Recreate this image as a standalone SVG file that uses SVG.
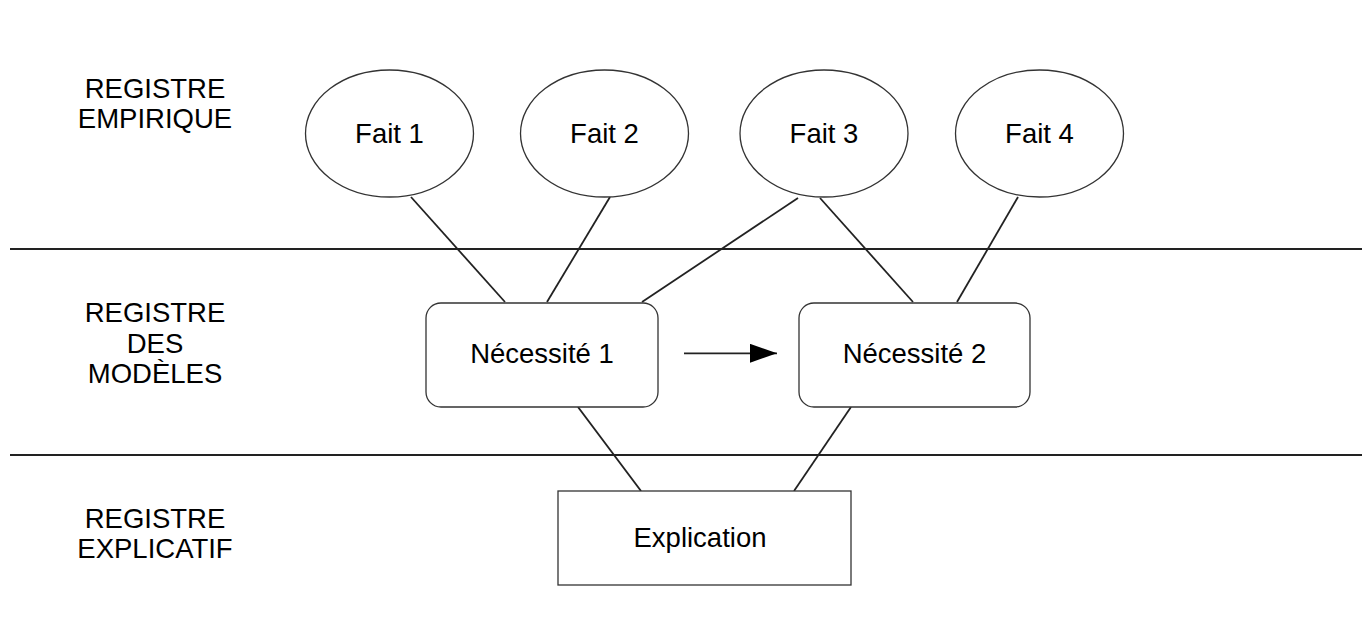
<svg xmlns="http://www.w3.org/2000/svg" width="1370" height="632" viewBox="0 0 1370 632">
<defs>
<style>
.t{font-family:"Liberation Sans",Arial,sans-serif;font-size:27.5px;fill:#000;text-anchor:middle}
.s{fill:#fff;stroke:#333;stroke-width:1.3}
.c line{stroke:#222;stroke-width:1.8}
.sep{stroke:#222;stroke-width:2.2}
</style>
<marker id="ah" viewBox="0 0 10 10" refX="10" refY="5" markerWidth="27" markerHeight="19" markerUnits="userSpaceOnUse" orient="auto" preserveAspectRatio="none">
<path d="M0,0 L10,5 L0,10 Z" fill="#000"/>
</marker>
</defs>
<rect width="1370" height="632" fill="#fff"/>
<g id="separators">
<line class="sep" x1="10" y1="249" x2="1362" y2="249"/>
<line class="sep" x1="10" y1="455" x2="1362" y2="455"/>
</g>
<g id="labels">
<text class="t" x="155" y="98">REGISTRE</text>
<text class="t" x="155" y="128">EMPIRIQUE</text>
<text class="t" x="155" y="322">REGISTRE</text>
<text class="t" x="155" y="353">DES</text>
<text class="t" x="155" y="383">MODÈLES</text>
<text class="t" x="155" y="528">REGISTRE</text>
<text class="t" x="155" y="558">EXPLICATIF</text>
</g>
<g id="connectors" class="c">
<line x1="411" y1="197" x2="505" y2="302"/>
<line x1="610" y1="197" x2="547" y2="302"/>
<line x1="798" y1="198" x2="642" y2="302"/>
<line x1="820" y1="198" x2="913" y2="302"/>
<line x1="1018" y1="197" x2="957" y2="302"/>
<line x1="578" y1="407" x2="641" y2="491"/>
<line x1="851" y1="407" x2="794" y2="491"/>
<line x1="684" y1="353.3" x2="777" y2="353.3" marker-end="url(#ah)"/>
</g>
<g id="fait1"><ellipse class="s" cx="389.5" cy="133.5" rx="84" ry="63.5"/><text class="t" x="389.5" y="143">Fait 1</text></g>
<g id="fait2"><ellipse class="s" cx="604.5" cy="133.5" rx="84" ry="63.5"/><text class="t" x="604.5" y="143">Fait 2</text></g>
<g id="fait3"><ellipse class="s" cx="824" cy="133.5" rx="84" ry="63.5"/><text class="t" x="824" y="143">Fait 3</text></g>
<g id="fait4"><ellipse class="s" cx="1039.5" cy="133.5" rx="84" ry="63.5"/><text class="t" x="1039.5" y="143">Fait 4</text></g>
<g id="necessite1"><rect class="s" x="426" y="303" width="232" height="104" rx="15"/><text class="t" x="542" y="363">Nécessité 1</text></g>
<g id="necessite2"><rect class="s" x="799" y="303" width="231" height="104" rx="15"/><text class="t" x="914.5" y="363">Nécessité 2</text></g>
<g id="explication"><rect class="s" x="558" y="491" width="293" height="94"/><text class="t" x="700" y="547">Explication</text></g>
</svg>
